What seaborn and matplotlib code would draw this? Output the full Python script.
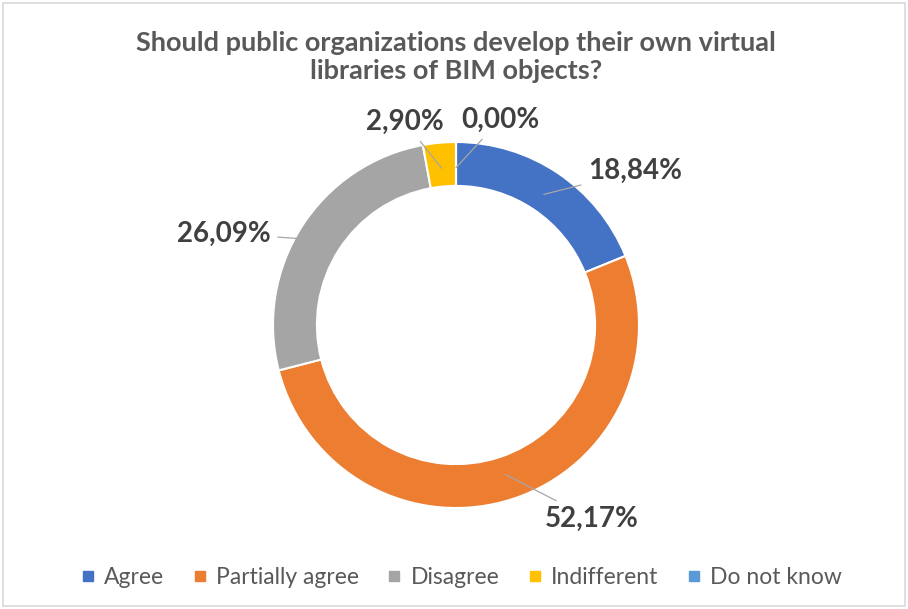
import matplotlib
matplotlib.use("Agg")
import matplotlib.pyplot as plt
import seaborn as sns
import numpy as np
from matplotlib.patches import Rectangle
from matplotlib.lines import Line2D

categories = ["Agree", "Partially agree", "Disagree", "Indifferent", "Do not know"]
values = [18.84, 52.17, 26.09, 2.90, 0.00]
value_labels = ["18,84%", "52,17%", "26,09%", "2,90%", "0,00%"]
colors = ["#4472C4", "#ED7D31", "#A5A5A5", "#FFC000", "#5B9BD5"]
title = "Should public organizations develop their own virtual\nlibraries of BIM objects?"

# label placement (layout only): position in units of outer radius
label_pos = [(0.98, 0.84), (0.74, -1.06), (-1.27, 0.50), (-0.28, 1.11), (0.24, 1.12)]

sns.set_theme(style="white")
plt.rcParams["font.family"] = ["Lato", "DejaVu Sans"]

W, H = 908, 609
fig = plt.figure(figsize=(W / 100, H / 100), dpi=100)
fig.patch.set_facecolor("white")

# frame
fig.patches.append(Rectangle((3 / W, 3 / H), (W - 6) / W, (H - 6) / H,
                             transform=fig.transFigure, fill=False,
                             edgecolor="#D9D9D9", lw=1.2))

cx, cy, R = 456, 325, 183
ax = fig.add_axes([(cx - R) / W, (H - cy - R) / H, 2 * R / W, 2 * R / H])
wedges, _ = ax.pie(values, colors=colors, startangle=90, counterclock=False,
                   radius=1.0,
                   wedgeprops=dict(width=0.24, edgecolor="white", linewidth=1.5))
ax.set_xlim(-1, 1)
ax.set_ylim(-1, 1)
ax.set_aspect("equal")
ax.axis("off")

total = sum(values)
cum = 0.0
for v, lab, pos in zip(values, value_labels, label_pos):
    mid = 90 - (cum + v / 2) / total * 360
    cum += v
    rad = np.deg2rad(mid)
    r0 = 0.86
    xy = (r0 * np.cos(rad), r0 * np.sin(rad))
    ax.annotate(lab, xy=xy, xytext=pos, ha="center", va="center",
                fontsize=20, fontweight="bold", color="#404040",
                annotation_clip=False,
                arrowprops=dict(arrowstyle="-", color="#A6A6A6", lw=0.9,
                                shrinkA=3, shrinkB=0))

fig.text(0.502, (H - 57) / H, title, ha="center", va="center",
         fontsize=19.5, fontweight="bold", color="#595959", linespacing=1.2)

handles = [Line2D([0], [0], marker="s", linestyle="none", markersize=7,
                  markerfacecolor=c, markeredgecolor=c) for c in colors]
leg = fig.legend(handles, categories, loc="center", bbox_to_anchor=(0.507, (H - 578) / H),
                 ncol=5, frameon=False, fontsize=16.5, handletextpad=0.3,
                 columnspacing=1.15, handlelength=0.8)
for t in leg.get_texts():
    t.set_color("#595959")

fig.savefig("out.png", dpi=100, facecolor="white")
